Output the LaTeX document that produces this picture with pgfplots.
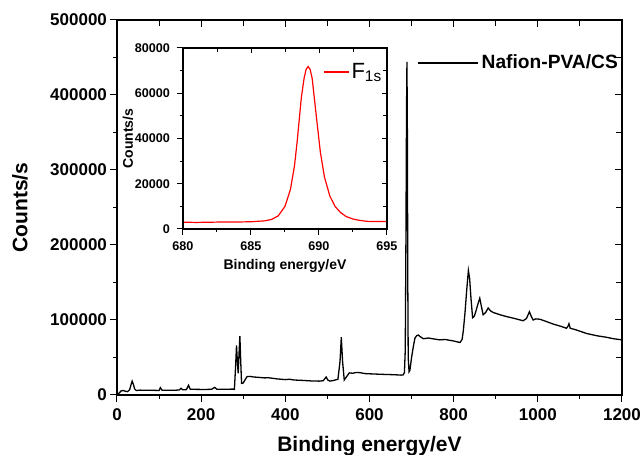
\documentclass[border=0pt]{standalone}
\usepackage{fontspec}
\setmainfont{Liberation Sans}
\usepackage{pgfplots}
\pgfplotsset{compat=1.18}

\pgfplotsset{
  frame/.style={
    scale only axis,
    axis line style={line width=0.6pt},
    every tick/.style={black, line width=0.5pt},
    /pgf/number format/assume math mode=true,
    /pgf/number format/fixed,
    /pgf/number format/precision=0,
    /pgf/number format/1000 sep={},
    scaled ticks=false,
  },
}

\begin{document}
\begin{tikzpicture}
% main survey spectrum
\begin{axis}[frame,
  at={(0,0)}, anchor=south west,
  width=252.5pt, height=187.5pt,
  xmin=0, xmax=1200, ymin=0, ymax=500000,
  xtick={0,200,...,1200}, ytick={0,100000,...,500000},
  minor x tick num=1, minor y tick num=1,
  tick align=outside, xtick pos=left, ytick pos=left,
  major tick length=3.5pt, minor tick length=1.8pt,
  tick label style={font=\bfseries\fontsize{8.5}{10}\selectfont},
  yticklabel style={xshift=2pt},
  xlabel={Binding energy/eV}, ylabel={Counts/s},
  every axis x label/.style={at={([yshift=-28.5pt]axis description cs:0.5,0)}, anchor=base,
    font=\bfseries\fontsize{10.5}{12}\selectfont},
  every axis y label/.style={at={([xshift=-48.5pt]axis description cs:0,0.5)}, rotate=90, anchor=center,
    font=\bfseries\fontsize{10.5}{12}\selectfont},
  legend style={draw=none, fill=none, at={(0.594,0.885)}, anchor=west, inner sep=0pt,
    font=\bfseries\fontsize{9.6}{11}\selectfont, nodes={inner xsep=1.5pt}},
  legend image code/.code={\draw[#1] (0pt,0pt) -- (30pt,0pt);},
]
\addplot[black, line width=0.65pt] coordinates {
(0,1000) (5,2500) (10,5500) (15,6000) (20,5000) (25,4500) (30,7000) (33,13000)
(36,18500) (39,14000) (42,8000) (46,6000) (55,6500) (70,6200) (85,6300) (100,6000)
(103,9800) (107,6500) (120,6200) (140,6400) (148,6800) (152,9000) (156,7000) (165,7200)
(170,13000) (174,7800) (190,7500) (210,7400) (225,7600) (232,10200) (237,7800) (255,7600)
(270,7800) (279,7800) (282,40000) (284,66000) (286,45000) (288,29000) (290,55000) (292,78500)
(294,45000) (296,15500) (300,16000) (304,20000) (309,24500) (316,24800) (325,24000) (335,23600)
(350,22800) (360,23000) (380,21500) (400,20500) (410,21000) (420,20000) (440,19500) (460,18800)
(480,18500) (490,19000) (497,24000) (501,20000) (506,18500) (515,19500) (525,21000) (530,45000)
(533,77000) (536,45000) (540,20000) (545,24000) (552,29500) (560,29000) (568,30000) (577,29800)
(590,28500) (610,28000) (633,27500) (660,27000) (675,26500) (680,26800) (683,30000) (685,60000)
(686.5,200000) (688,380000) (689,444000) (690,350000) (691,150000) (692,50000) (694,31000) (696,33000)
(700,50000) (704,64000) (708,76000) (712,79000) (716,80000) (720,78000) (724,76500) (728,75000)
(734,75500) (740,76000) (750,75000) (767,73500) (780,74000) (800,72000) (815,70000) (820,74000)
(823,86000) (827,110000) (831,140000) (835,166000) (838,155000) (841,130000) (845,103000) (849,105000)
(853,112000) (858,122000) (862,129000) (866,118000) (870,107000) (876,110000) (882,116000) (888,112000)
(894,110000) (910,107000) (926,104500) (945,102000) (965,99000) (973,102000) (980,111000) (985,104000)
(989,100000) (995,101500) (1005,101000) (1020,98000) (1037,94500) (1055,91500) (1068,89000) (1072,92000)
(1074,95000) (1077,89000) (1090,87000) (1116,82000) (1140,79000) (1163,77000) (1180,75000) (1200,73500)
};
\addlegendentry{Nafion-PVA/CS}
\end{axis}
% main mirror ticks, pointing inward
\begin{axis}[frame,
  at={(0,0)}, anchor=south west,
  width=252.5pt, height=187.5pt,
  xmin=0, xmax=1200, ymin=0, ymax=500000,
  xtick={0,200,...,1200}, ytick={0,100000,...,500000},
  minor x tick num=1, minor y tick num=1,
  tick align=inside, xtick pos=right, ytick pos=right,
  major tick length=3.5pt, minor tick length=3pt,
  xticklabels={}, yticklabels={},
]
\end{axis}
% inset: F 1s region
\begin{axis}[frame,
  at={(33pt,83pt)}, anchor=south west,
  width=102pt, height=90.5pt,
  axis background/.style={fill=white},
  xmin=680, xmax=695, ymin=0, ymax=80000,
  xtick={680,685,690,695}, ytick={0,20000,...,80000},
  minor x tick num=1, minor y tick num=1,
  tick align=outside, xtick pos=left, ytick pos=left,
  major tick length=3pt, minor tick length=1.5pt,
  tick label style={font=\bfseries\fontsize{6.3}{7.5}\selectfont},
  xlabel={Binding energy/eV}, ylabel={Counts/s},
  every axis x label/.style={at={([yshift=-20.5pt]axis description cs:0.5,0)}, anchor=base,
    font=\bfseries\fontsize{7}{8}\selectfont},
  every axis y label/.style={at={([xshift=-27.5pt]axis description cs:0,0.5)}, rotate=90, anchor=center,
    font=\bfseries\fontsize{7}{8}\selectfont},
  legend style={draw=none, fill=none, at={(0.686,0.867)}, anchor=west, inner sep=0pt,
    font=\fontsize{11}{12}\selectfont, nodes={inner xsep=1pt}},
  legend image code/.code={\draw[#1] (0pt,0pt) -- (12.5pt,0pt);},
]
\addplot[red, line width=0.6pt] coordinates {
(680,3000) (681,2900) (682,3000) (683,3100) (684,3100) (685,3200) (686,3600) (686.5,4200)
(687,5800) (687.5,10000) (687.9,17500) (688.2,28000) (688.4,39000) (688.7,58000) (688.9,66500) (689.05,70500)
(689.2,71800) (689.35,70500) (689.5,66500) (689.8,50000) (690.1,34000) (690.4,23000) (690.8,14500) (691.2,9800)
(691.6,7200) (692,5500) (692.5,4400) (693,3800) (693.5,3400) (694,3300) (695,3300)
};
\addlegendentry{F\textsubscript{1s}}
\end{axis}
\begin{axis}[frame,
  at={(33pt,83pt)}, anchor=south west,
  width=102pt, height=90.5pt,
  xmin=680, xmax=695, ymin=0, ymax=80000,
  xtick={680,685,690,695}, ytick={0,20000,...,80000},
  minor x tick num=1, minor y tick num=1,
  tick align=inside, xtick pos=right, ytick pos=right,
  major tick length=2.5pt, minor tick length=2pt,
  xticklabels={}, yticklabels={},
]
\end{axis}
\pgfresetboundingbox
\useasboundingbox (-58.5pt,-30pt) rectangle (263pt,197.5pt);
\end{tikzpicture}
\end{document}
